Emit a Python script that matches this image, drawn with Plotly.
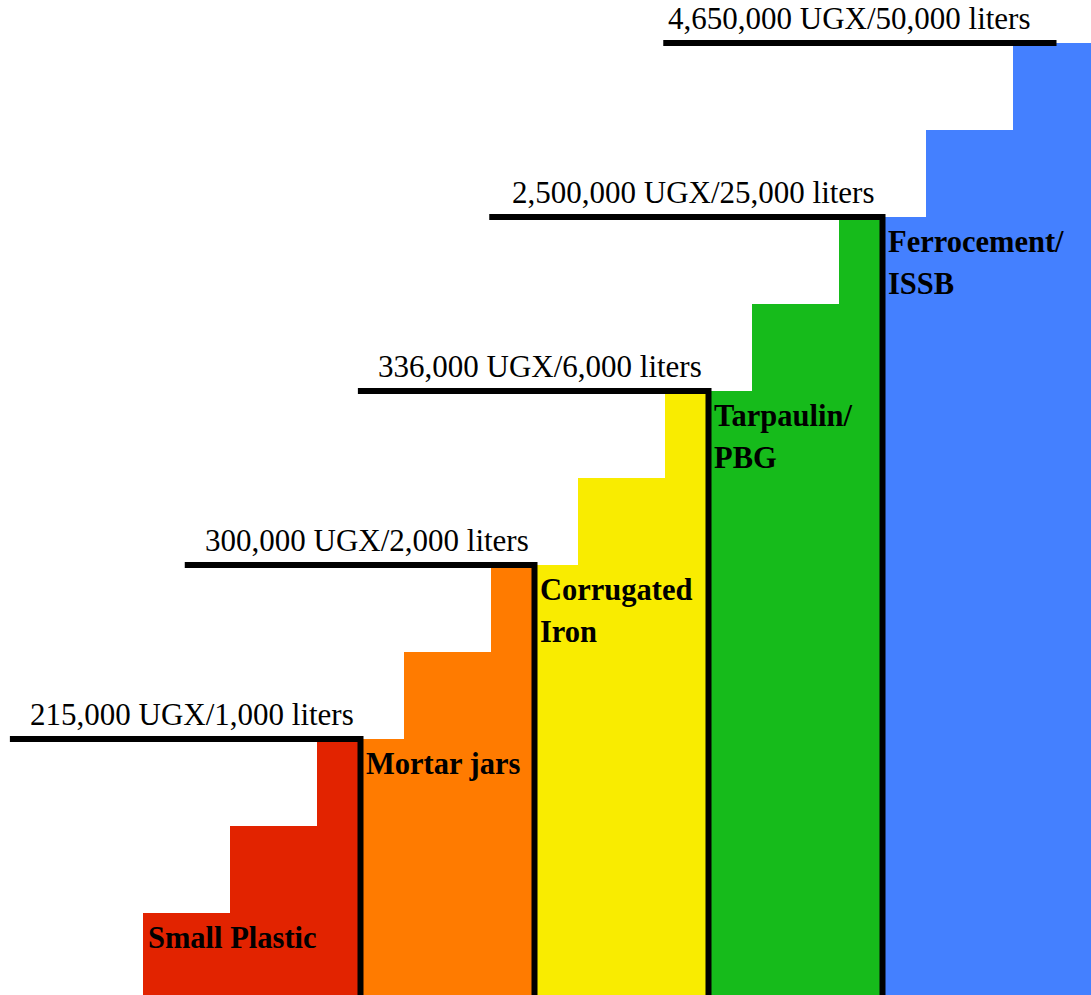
import math
import plotly.graph_objects as go

# ---- data ----
categories = ["Small Plastic", "Mortar jars", "Corrugated\nIron", "Tarpaulin/\nPBG", "Ferrocement/\nISSB"]
cost_labels = [
    "215,000 UGX/1,000 liters",
    "300,000 UGX/2,000 liters",
    "336,000 UGX/6,000 liters",
    "2,500,000 UGX/25,000 liters",
    "4,650,000 UGX/50,000 liters",
]
colors = ["#E22300", "#FF7B00", "#F9EC00", "#16BB1B", "#4480FF"]
step_heights = [1, 2, 3, 4, 5, 6, 7, 8, 9, 10, 11]      # height of each stair step
boundaries = [0, 2.5, 4.5, 6.5, 8.5, 11]                 # category edges in step units
line_starts = [-1.53, 0.48, 2.47, 3.98, 5.98]            # left end of each price line
line_ends = [2.5, 4.5, 6.5, 8.5, 10.5]                   # right end of each price line
has_riser = [True, True, True, True, False]
label_x = [-1.30, 0.71, 2.70, 4.24, 6.03]                # left of price text

FONT = "Liberation Serif, Times New Roman, serif"


def h(x):
    k = int(math.floor(x + 1e-9))
    k = max(0, min(k, len(step_heights) - 1))
    return step_heights[k]


def h_left(x):
    return h(x - 1e-6)


fig = go.Figure()

# stair fills
for i, cat in enumerate(categories):
    a, b = boundaries[i], boundaries[i + 1]
    xs = [a, a]
    ys = [0, h(a)]
    e = math.floor(a) + 1
    while e < b:
        xs += [e, e]
        ys += [h_left(e), h(e)]
        e += 1
    xs += [b, b, a]
    ys += [h_left(b), 0, 0]
    fig.add_trace(go.Scatter(x=xs, y=ys, mode="lines", fill="toself",
                             fillcolor=colors[i], line=dict(width=0, color=colors[i]),
                             hoverinfo="skip", showlegend=False))

# black price lines
for i in range(len(categories)):
    H = h_left(line_ends[i])
    if has_riser[i]:
        xs = [line_starts[i], line_ends[i], line_ends[i]]
        ys = [H, H, 0]
    else:
        xs = [line_starts[i], line_ends[i]]
        ys = [H, H]
    fig.add_trace(go.Scatter(x=xs, y=ys, mode="lines",
                             line=dict(color="black", width=6),
                             hoverinfo="skip", showlegend=False))

annotations = []
# price labels
for i, txt in enumerate(cost_labels):
    H = h_left(line_ends[i])
    annotations.append(dict(x=label_x[i], y=H, xref="x", yref="y", text=txt,
                            showarrow=False, xanchor="left", yanchor="bottom",
                            xshift=-2, yshift=5,
                            font=dict(family=FONT, size=31, color="black")))

# category labels
for i, cat in enumerate(categories):
    x0 = boundaries[i]
    top = h(x0) if i == 0 else h_left(x0)
    for j, part in enumerate(cat.split("\n")):
        annotations.append(dict(x=x0, y=top, xref="x", yref="y", text="<b>" + part + "</b>",
                                showarrow=False, xanchor="left", yanchor="top",
                                xshift=3, yshift=-6 - 42 * j,
                                font=dict(family=FONT, size=30.5, color="black")))

PX = 87.0
fig.update_layout(
    width=1091, height=995,
    margin=dict(l=0, r=0, t=0, b=0),
    paper_bgcolor="white", plot_bgcolor="white",
    xaxis=dict(range=[-143 / PX, (1091 - 143) / PX], visible=False, fixedrange=True),
    yaxis=dict(range=[5 / PX, 1000 / PX], visible=False, fixedrange=True),
    annotations=annotations,
    showlegend=False,
)

fig.write_html("out.html", config={"displayModeBar": False})
